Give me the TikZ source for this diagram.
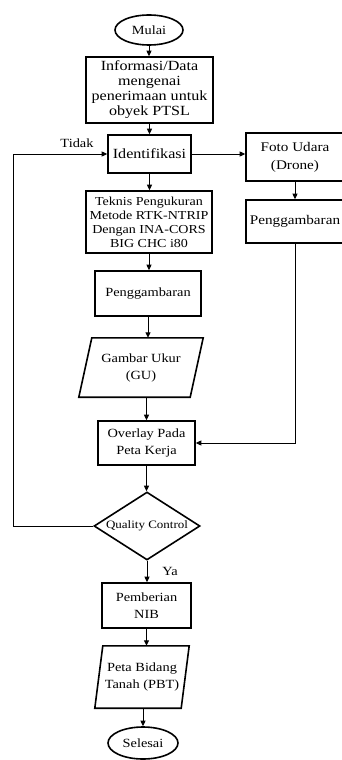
\documentclass[tikz,border=0pt]{standalone}
\usepackage{fontspec}
\setmainfont{Liberation Serif}[FakeStretch=1.15]
\usetikzlibrary{shapes.geometric,arrows.meta,calc}
\newcommand\dfont{\fontsize{12.5}{17}\selectfont}
\newcommand\dinfo{\fontsize{14}{15}\selectfont}
\newcommand\dtek{\fontsize{12.2}{14}\selectfont}
\newcommand\dqc{\fontsize{11.3}{13}\selectfont}
\newcommand\dright{\fontsize{13.2}{18}\selectfont}
\begin{document}
\begin{tikzpicture}[x=1pt,y=-1pt,
  box/.style={draw, line width=1.6pt, rectangle, inner sep=0pt, align=center, font=\dfont},
  term/.style={draw, line width=1.6pt, ellipse, inner sep=0pt, align=center, font=\dfont},
  para/.style={rectangle, inner sep=0pt, align=center, font=\dfont},
  parashape/.style={line width=1.6pt, line join=miter},
  conn/.style={line width=0.9pt, -{Triangle[length=5.5pt,width=5pt]}},
  lbl/.style={font=\dfont, inner sep=0pt}]
\useasboundingbox (0,0) rectangle (342,760);
\fill[white] (0,0) rectangle (342,760);

\node[term, minimum width=68, minimum height=30] (mulai) at (149,30) {Mulai};
\node[box, minimum width=127, minimum height=66, font=\dinfo] (info) at (149.5,90) {Informasi/Data\\mengenai\\penerimaan untuk\\obyek PTSL};
\node[box, minimum width=83, minimum height=38, font=\dinfo] (ident) at (149.5,154) {Identifikasi};
\node[box, minimum width=126, minimum height=62, font=\dtek] (tek) at (149,222) {Teknis Pengukuran\\Metode RTK-NTRIP\\Dengan INA-CORS\\BIG CHC i80};
\node[box, minimum width=106, minimum height=45] (peng) at (148,293.5) {Penggambaran};
\node[para, minimum width=124, minimum height=59] (gu) at (141,367.5) {Gambar Ukur\\(GU)};
\draw[parashape] ([xshift=13pt]gu.north west) -- (gu.north east) -- ([xshift=-13pt]gu.south east) -- (gu.south west) -- cycle;
\node[box, minimum width=97, minimum height=44] (ovl) at (146.5,443) {Overlay Pada\\Peta Kerja};
\node[diamond, draw, line width=1.6pt, inner sep=0pt, minimum width=106, minimum height=68, font=\dqc] (qc) at (147,526) {\makebox[0pt]{Quality Control}};
\node[box, minimum width=89, minimum height=45] (nib) at (146.5,605.5) {Pemberian\\NIB};
\node[para, minimum width=94, minimum height=62] (pbt) at (142,677) {Peta Bidang\\Tanah (PBT)};
\draw[parashape] ([xshift=8pt]pbt.north west) -- (pbt.north east) -- ([xshift=-8pt]pbt.south east) -- (pbt.south west) -- cycle;
\node[term, minimum width=70, minimum height=32] (sel) at (143,743) {Selesai};

\node[box, minimum width=98, minimum height=48, font=\dright] (foto) at (295,157) {Foto Udara\\(Drone)};
\node[box, minimum width=98, minimum height=43, font=\dright] (peng2) at (295,221.5) {Penggambaran};

\node[lbl] (tidak) at (77,143) {Tidak};
\node[lbl] (ya) at (170,571) {Ya};
\coordinate (lx) at (13,0);

\draw[conn] (mulai.south) -- (mulai.south |- info.north);
\draw[conn] (info.south) -- (info.south |- ident.north);
\draw[conn] (ident.south) -- (ident.south |- tek.north);
\draw[conn] (tek.south) -- (tek.south |- peng.north);
\draw[conn] (peng.south) -- (peng.south |- gu.north);
\draw[conn] (ovl.north |- gu.south) -- (ovl.north);
\draw[conn] (ovl.south) -- (ovl.south |- qc.north);
\draw[conn] (qc.south) -- (qc.south |- nib.north);
\draw[conn] (nib.south) -- (nib.south |- pbt.north);
\draw[conn] (sel.north |- pbt.south) -- (sel.north);
\draw[conn] (ident.east) -- (ident.east -| foto.west);
\draw[conn] (foto.south) -- (foto.south |- peng2.north);
\draw[conn] (peng2.south) |- (ovl.east);
\draw[conn] (qc.west) -| (lx |- ident.west) -- (ident.west);
\end{tikzpicture}
\end{document}
